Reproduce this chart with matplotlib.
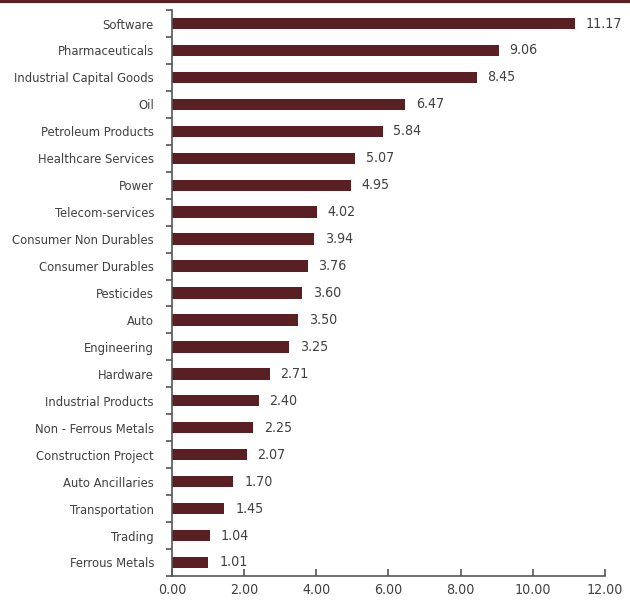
import matplotlib
matplotlib.use('Agg')
import matplotlib.pyplot as plt
import numpy as np
from matplotlib.lines import Line2D

sectors = ['Software', 'Pharmaceuticals', 'Industrial Capital Goods', 'Oil',
           'Petroleum Products', 'Healthcare Services', 'Power', 'Telecom-services',
           'Consumer Non Durables', 'Consumer Durables', 'Pesticides', 'Auto',
           'Engineering', 'Hardware', 'Industrial Products', 'Non - Ferrous Metals',
           'Construction Project', 'Auto Ancillaries', 'Transportation', 'Trading',
           'Ferrous Metals']
values = [11.17, 9.06, 8.45, 6.47, 5.84, 5.07, 4.95, 4.02, 3.94, 3.76, 3.60, 3.50,
          3.25, 2.71, 2.40, 2.25, 2.07, 1.70, 1.45, 1.04, 1.01]
xticks = [0, 2, 4, 6, 8, 10, 12]

bar_col = '#5a1f22'
txt_col = '#404040'
plt.rcParams['font.family'] = ['DejaVu Sans']
plt.rcParams['font.stretch'] = 'condensed'

fig = plt.figure(figsize=(6.3, 6.04), dpi=100)
ax = fig.add_axes([0.273, 0.0464, 0.687, 0.937])

n = len(sectors)
y = np.arange(n)[::-1]
ax.barh(y, values, height=0.42, color=bar_col)
for yi, v in zip(y, values):
    ax.text(v + 0.3, yi, '%.2f' % v, va='center', ha='left', fontsize=10.2, color=txt_col)

ax.set_xlim(0, 12)
ax.set_ylim(-0.5, n - 0.5)
ax.set_xticks(xticks)
ax.set_xticklabels(['%.2f' % t for t in xticks], fontsize=10.2, color=txt_col)
ax.set_yticks(y)
ax.set_yticklabels(sectors, fontsize=9.3, color=txt_col)
ax.tick_params(axis='y', which='major', length=0, pad=13)
ax.set_yticks(np.arange(n + 1) - 0.5, minor=True)
ax.tick_params(axis='y', which='minor', length=4, direction='out', color='#555555', width=1.2)
ax.tick_params(axis='x', length=5, direction='in', color='#555555', width=1.2, pad=5)
for s in ['top', 'right']:
    ax.spines[s].set_visible(False)
for s in ['left', 'bottom']:
    ax.spines[s].set_color('#555555')
    ax.spines[s].set_linewidth(1.2)

fig.add_artist(Line2D([0, 1], [0.998, 0.998], transform=fig.transFigure, color=bar_col, lw=3))

fig.savefig('out.png', dpi=100)
